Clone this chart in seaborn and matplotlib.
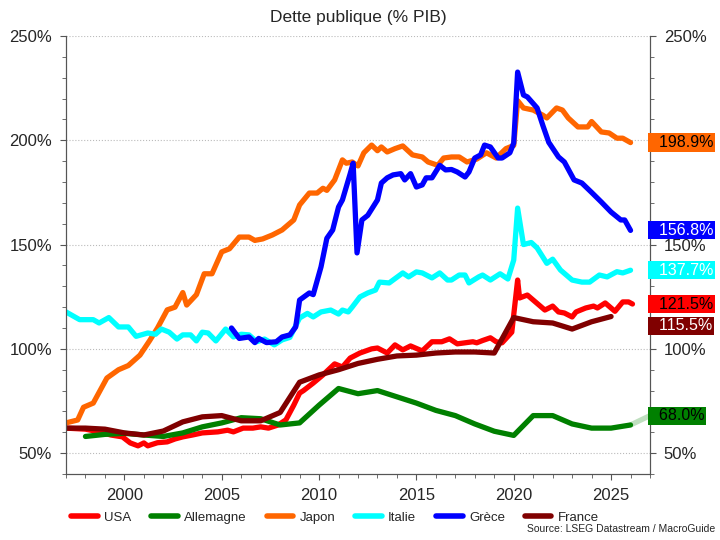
import pandas as pd
import matplotlib
matplotlib.use("Agg")
import matplotlib.pyplot as plt
from matplotlib.ticker import MultipleLocator, StrMethodFormatter, FuncFormatter
import seaborn as sns

# Dette publique (% PIB)
usa_x = [1997.0, 1998.0, 1998.8, 1999.3, 1999.9, 2000.3, 2000.7, 2001.0, 2001.2, 2001.7,
         2002.2, 2002.6, 2003.0, 2003.5, 2004.0, 2004.8, 2005.3, 2005.6, 2006.1, 2006.6,
         2007.0, 2007.4, 2007.9, 2008.3, 2008.7, 2009.0, 2009.2, 2009.7, 2010.2, 2010.8,
         2011.2, 2011.6, 2012.1, 2012.7, 2013.0, 2013.5, 2013.9, 2014.3, 2014.7, 2015.3,
         2015.8, 2016.3, 2016.7, 2017.1, 2017.5, 2017.9, 2018.1, 2018.4, 2018.8, 2019.1,
         2019.4, 2019.9, 2020.2, 2020.3, 2020.7, 2021.0, 2021.6, 2022.0, 2022.3, 2022.6,
         2023.0, 2023.2, 2023.7, 2024.1, 2024.3, 2024.7, 2025.2, 2025.6, 2025.9, 2026.1]
usa_y = [62, 61.5, 60, 58.7, 57.8, 54.9, 53.5, 54.9, 53.5, 55,
         55.4, 56.8, 57.8, 58.7, 59.7, 60.2, 61, 60.2, 62, 62,
         62.6, 62, 63.5, 66, 73, 78.8, 80, 83.6, 87.5, 92.8,
         91.3, 95.6, 98, 100, 100.4, 98, 101.9, 99.5, 101.4, 99,
         103.4, 103.4, 104.8, 102.4, 102.9, 103.4, 102.9, 104, 105.3, 103.4,
         102.9, 108, 133, 124.4, 125.8, 123.4, 118.6, 120.5, 117.7, 117.2,
         115.3, 117.7, 119.6, 120.5, 119.6, 122, 118, 122.5, 122.5, 121.5]

allemagne_x = list(range(1998, 2027))
allemagne_y = [58, 59, 59.5, 58.7, 58, 59.7, 62.6, 64.5, 67, 66.5,
               63.5, 64.5, 73, 81, 78.5, 80, 77, 74, 70.5, 68,
               64, 60.5, 58.5, 68, 68, 64, 62, 62, 63.5]

japon_x = [1997.0, 1997.6, 1997.9, 1998.4, 1999.1, 1999.7, 2000.2, 2000.8, 2001.3, 2001.7,
           2002.2, 2002.6, 2003.0, 2003.2, 2003.7, 2004.1, 2004.5, 2005.0, 2005.4, 2005.9,
           2006.4, 2006.7, 2007.1, 2007.6, 2008.1, 2008.7, 2009.0, 2009.5, 2009.9, 2010.2,
           2010.4, 2010.8, 2011.2, 2011.4, 2011.7, 2012.0, 2012.3, 2012.7, 2013.0, 2013.2,
           2013.5, 2013.9, 2014.3, 2014.8, 2015.3, 2015.6, 2016.1, 2016.4, 2016.8, 2017.2,
           2017.6, 2018.1, 2018.6, 2019.1, 2019.6, 2020.0, 2020.2, 2020.5, 2021.0, 2021.5,
           2021.7, 2022.2, 2022.5, 2022.8, 2023.3, 2023.8, 2024.0, 2024.5, 2024.9, 2025.3,
           2025.6, 2026.0]
japon_y = [64.5, 65.9, 72, 74, 86, 90, 92, 97, 104, 110,
           118.7, 120, 127, 121, 126, 136, 136, 146.5, 148, 153.6,
           153.6, 152, 152.7, 154.6, 157, 161.8, 169, 174.7, 174.7, 177,
           176, 181, 190.6, 189, 189.6, 187.7, 194, 197.7, 195, 196.8,
           194.4, 196, 197.3, 193, 192, 189.6, 188, 191.5, 192, 192,
           189.6, 191, 194, 191.5, 196, 197.5, 219, 215.5, 214.5, 212,
           210.7, 215.5, 214.5, 210.7, 206.4, 206.4, 209, 204, 203.5, 201,
           201, 198.9]

italie_x = [1997.0, 1997.7, 1998.4, 1998.7, 1999.2, 1999.7, 2000.2, 2000.6, 2001.2, 2001.6,
            2001.9, 2002.3, 2002.7, 2003.0, 2003.4, 2003.7, 2004.0, 2004.3, 2004.7, 2005.2,
            2005.6, 2006.0, 2006.4, 2006.8, 2007.2, 2007.7, 2008.1, 2008.5, 2009.0, 2009.4,
            2009.7, 2010.1, 2010.6, 2011.0, 2011.2, 2011.5, 2011.7, 2012.1, 2012.5, 2012.9,
            2013.1, 2013.6, 2014.3, 2014.6, 2015.0, 2015.3, 2015.8, 2016.2, 2016.6, 2016.8,
            2017.2, 2017.5, 2017.7, 2018.2, 2018.4, 2018.8, 2019.3, 2019.7, 2020.0, 2020.2,
            2020.5, 2020.9, 2021.2, 2021.7, 2022.0, 2022.4, 2023.0, 2023.5, 2023.9, 2024.4,
            2024.8, 2025.3, 2025.6, 2026.0]
italie_y = [117.7, 114, 114, 112.4, 115, 110.5, 110.5, 106, 107.6, 107,
            109.5, 108, 104.7, 106.7, 106.7, 103.8, 108, 107.6, 103.8, 109.5,
            105.7, 107, 106.7, 103.4, 104.7, 101.9, 104.3, 105.5, 114.8, 117,
            115.3, 117.7, 118.6, 116.7, 118.6, 117.7, 120, 124.9, 126.8, 128.2,
            132, 131.6, 136.4, 134.5, 136.9, 136.4, 134, 136.4, 133, 133,
            135.4, 135.4, 131.6, 134.5, 135.4, 133, 136, 133.5, 142.6, 167.5,
            150, 151, 148.4, 141, 143, 137.8, 133, 132, 132, 135.4,
            134.5, 137, 136.4, 137.7]

grece_x = [2005.5, 2005.9, 2006.4, 2006.7, 2006.9, 2007.3, 2007.8, 2008.1, 2008.5, 2008.8,
           2009.0, 2009.5, 2009.7, 2010.1, 2010.4, 2010.7, 2011.0, 2011.2, 2011.6, 2011.75,
           2011.95, 2012.2, 2012.5, 2013.0, 2013.2, 2013.5, 2013.8, 2014.2, 2014.4, 2014.7,
           2015.0, 2015.3, 2015.5, 2015.8, 2016.2, 2016.5, 2016.8, 2017.1, 2017.5, 2017.7,
           2018.0, 2018.3, 2018.5, 2018.8, 2019.2, 2019.4, 2019.8, 2020.0, 2020.2, 2020.5,
           2020.7, 2021.2, 2021.5, 2021.8, 2022.3, 2022.6, 2023.1, 2023.5, 2024.0, 2024.5,
           2025.0, 2025.5, 2025.7, 2026.0]
grece_y = [110, 105, 105.7, 103, 105, 103, 103.4, 105.7, 106.7, 110.5,
           123.4, 126.8, 126, 139.3, 153, 157, 168, 171.4, 184, 189,
           146, 161.8, 164, 171.4, 179.5, 182, 183.4, 184, 181, 184,
           177.6, 178.6, 182, 182, 188, 185.8, 186, 184.8, 182.4, 184.8,
           191.5, 193, 197.7, 196.8, 191.5, 191.5, 194, 198.7, 232.7, 221.7,
           220.8, 215.5, 207, 199, 192, 189.6, 181, 179.5, 175, 170.4,
           165.6, 161.8, 161.8, 156.8]

france_x = list(range(1997, 2026))
france_y = [62, 62, 61.5, 59.7, 58.7, 60.6, 65, 67.4, 68, 65.5,
            65.5, 69.5, 84, 87.5, 90, 93, 95, 96.6, 97, 98,
            98.5, 98.5, 98, 115, 113, 112.4, 109.5, 113, 115.5]

pays = ["USA", "Allemagne", "Japon", "Italie", "Grèce", "France"]
couleurs = ["#ff0000", "#008000", "#ff6600", "#00ffff", "#0000ff", "#800000"]
couleurs_texte = ["black", "black", "black", "white", "white", "white"]
dernieres = [121.5, 68.0, 198.9, 137.7, 156.8, 115.5]

series = {
    "USA": (usa_x, usa_y),
    "Allemagne": (allemagne_x, allemagne_y),
    "Japon": (japon_x, japon_y),
    "Italie": (italie_x, italie_y),
    "Grèce": (grece_x, grece_y),
    "France": (france_x, france_y),
}

frames = []
for nom, (xs, ys) in series.items():
    frames.append(pd.DataFrame({"annee": xs, "dette": ys, "pays": nom}))
df = pd.concat(frames, ignore_index=True)

sns.set_style("white")
plt.rcParams["font.family"] = ["Liberation Sans", "DejaVu Sans"]

fig = plt.figure(figsize=(7.2, 5.4), dpi=100)
ax = fig.add_axes([66 / 720, 1 - 474 / 540, 584 / 720, 438 / 540])

sns.lineplot(data=df, x="annee", y="dette", hue="pays", hue_order=pays,
             palette=couleurs, linewidth=3.8, sort=False, estimator=None, ax=ax)

# petit trait pale vers l'etiquette de l'Allemagne
ax.plot([allemagne_x[-1], 2027], [allemagne_y[-1], dernieres[1]], color="#008000",
        alpha=0.25, linewidth=3.8, clip_on=False, solid_capstyle="butt")

ax.set_xlim(1997, 2027)
ax.set_ylim(40, 250)
ax.set_xlabel("")
ax.set_ylabel("")
ax.set_title("Dette publique (% PIB)", fontsize=12.5, pad=10)

ax.xaxis.set_major_locator(MultipleLocator(5))
ax.xaxis.set_minor_locator(MultipleLocator(1))
ax.yaxis.set_major_locator(MultipleLocator(50))
ax.yaxis.set_minor_locator(MultipleLocator(10))
ax.yaxis.set_major_formatter(StrMethodFormatter("{x:.0f}%"))
ax.grid(axis="y", which="major", linestyle=":", color="#bbbbbb", linewidth=0.8)

ax2 = ax.twinx()
ax2.set_ylim(ax.get_ylim())
ax2.yaxis.set_major_locator(MultipleLocator(50))
ax2.yaxis.set_minor_locator(MultipleLocator(10))
# le 200% de droite est cache sous l'etiquette du Japon
ax2.yaxis.set_major_formatter(FuncFormatter(lambda v, p: "" if v == 200 else "%.0f%%" % v))

for a in (ax, ax2):
    a.spines["top"].set_visible(False)
    for s in ("left", "right", "bottom"):
        a.spines[s].set_color("#555555")
    a.tick_params(which="both", direction="out", color="#555555", labelsize=12)
    a.tick_params(which="major", length=4, pad=6)
    a.tick_params(which="minor", length=3)
ax.tick_params(axis="y", which="both", left=True)
ax.tick_params(axis="x", which="both", bottom=True)
ax2.tick_params(axis="y", which="both", right=True)

# etiquettes des dernieres valeurs
positions = list(dernieres)
positions[5] = positions[0] - 10.5
for nom, val, pos, c, tc in zip(pays, dernieres, positions, couleurs, couleurs_texte):
    ax2.annotate("  %.1f%%" % val, xy=(1.0, pos), xycoords=("axes fraction", "data"),
                 ha="left", va="center", fontsize=11.5, color=tc, zorder=10,
                 annotation_clip=False,
                 bbox=dict(boxstyle="square,pad=0.1", fc=c, ec="none"))

sns.move_legend(ax, "center left", bbox_to_anchor=(0.0, -0.1), ncol=6, frameon=False,
                title=None, fontsize=9.5, handlelength=2.0, handletextpad=0.5,
                columnspacing=1.5, borderaxespad=0)
for ligne in ax.get_legend().get_lines():
    ligne.set_linewidth(4)

fig.text(0.994, 0.012, "Source: LSEG Datastream / MacroGuide", ha="right", va="bottom",
         fontsize=7.5)

fig.savefig("out.png", dpi=100)
